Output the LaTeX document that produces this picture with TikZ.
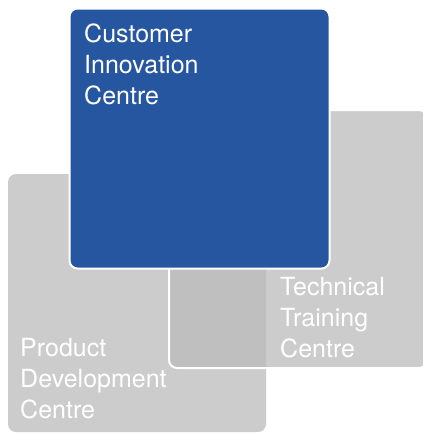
\documentclass[tikz,border=0pt]{standalone}
\usepackage{fontspec}
\setmainfont{TeX Gyre Heros}
\definecolor{centreblue}{RGB}{39,86,161}
\definecolor{centregray}{RGB}{204,204,204}
\definecolor{overlapgray}{RGB}{188,188,188}
\tikzset{
  centre/.style={rectangle, rounded corners=8pt, minimum size=258pt, inner sep=0pt},
  centretext/.style={anchor=north west, inner sep=0pt, align=left, text=white,
    font=\fontsize{25}{31}\selectfont}
}
\begin{document}
\begin{tikzpicture}[x=1pt,y=-1pt]
\useasboundingbox (0,0) rectangle (423,434);
\begin{scope}
\clip (0,0) rectangle (423,434);
\node[centre, fill=centregray] (product) at (137,303) {};
\node[centre, fill=overlapgray, fill opacity=0.765, draw=white, line width=2pt] (technical) at (298,239) {};
\node[centre, minimum size=260pt, fill=centreblue, draw=white, line width=2pt] (customer) at (199.5,138.5) {};
\end{scope}
\node[centretext] (customertext) at (84,24) {Customer\\Innovation\\Centre};
\node[centretext] (technicaltext) at (280,277) {Technical\\Training\\Centre};
\node[centretext] (producttext) at (20,338) {Product\\Development\\Centre};
\end{tikzpicture}
\end{document}
